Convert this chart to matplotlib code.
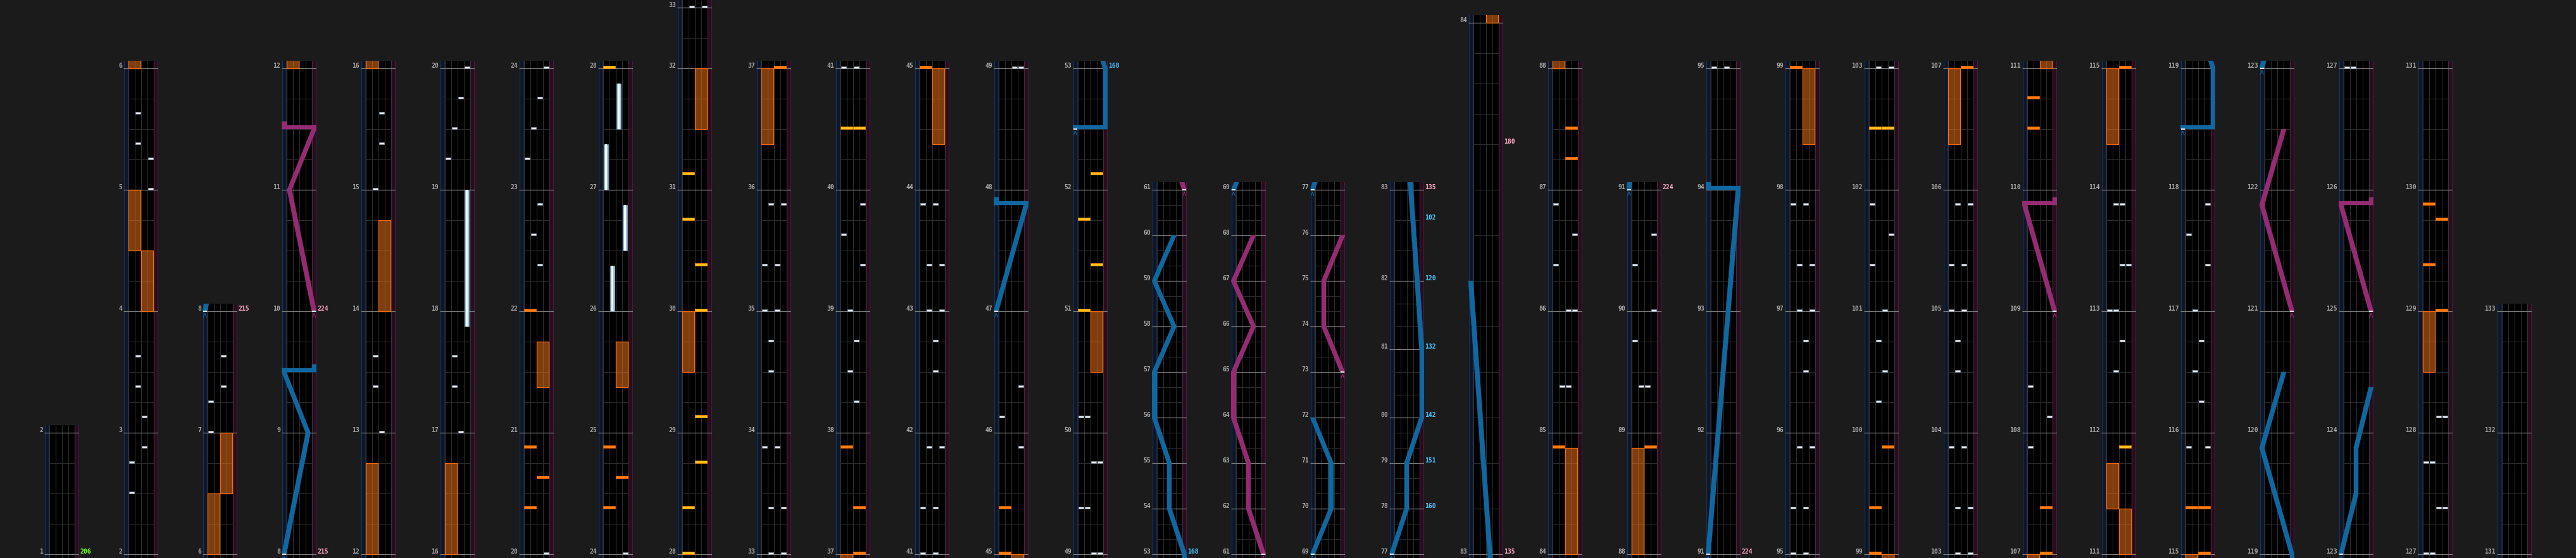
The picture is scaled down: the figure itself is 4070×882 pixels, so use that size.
import matplotlib
matplotlib.use("Agg")
import matplotlib.pyplot as plt
from matplotlib.patches import Rectangle, Polygon

# ---------------- chart data ----------------
# column ranges (first measure, last measure shown at the top)
columns = [(1, 2), (2, 6), (6, 8), (8, 12), (12, 16), (16, 20), (20, 24), (24, 28),
           (28, 33), (33, 37), (37, 41), (41, 45), (45, 49), (49, 53), (53, 61), (61, 69),
           (69, 77), (77, 83), (83, 84), (84, 88), (88, 91), (91, 95), (95, 99), (99, 103),
           (103, 107), (107, 111), (111, 115), (115, 119), (119, 123), (123, 127), (127, 131),
           (131, 133)]
last_measure = 133
default_beats = 4.0
odd_measures = {32: 2.0, 80: 2.25, 81: 2.25, 82: 3.0, 83: 17.5}
three_eight_first, three_eight_last = 53, 79          # 3/8 measures (1.5 beats)
grid_step_by_length = {1.5: 0.5, 2.25: 0.75}
measure83_grid = [1.5, 3.0, 4.5, 6.0, 7.5, 9.0, 10.5, 12.0, 13.5, 14.5, 15.5, 16.5]

# BT chips (measure, beat, lane 0-3)
bt_notes = [(2, 2, 0), (2, 3, 0), (2, 3.5, 2), (3, 0.5, 2), (3, 1.5, 1), (3, 2.5, 1),
            (5, 0, 3), (5, 1, 3), (5, 1.5, 1), (5, 2.5, 1),
            (7, 0, 0), (7, 1, 0), (7, 1.5, 2), (7, 2.5, 2),
            (13, 0, 2), (13, 1.5, 1), (13, 2.5, 1), (15, 0, 1), (15, 1.5, 2), (15, 2.5, 2),
            (17, 0, 2), (17, 1.5, 1), (17, 2.5, 1), (19, 1, 0), (19, 2, 1), (19, 3, 2), (20, 0, 3),
            (22, 1.5, 2), (22, 2.5, 1), (22, 3.5, 2), (23, 1, 0), (23, 2, 1), (23, 3, 2), (24, 0, 3),
            (33, 0, 1), (33, 0, 3), (33, 1.5, 1), (33, 1.5, 3), (33, 3.5, 0), (33, 3.5, 2),
            (34, 2, 1), (34, 3, 1), (35, 0, 0), (35, 0, 2), (35, 1.5, 0), (35, 1.5, 2),
            (35, 3.5, 1), (35, 3.5, 3),
            (38, 1, 2), (38, 2, 1), (38, 3, 2), (39, 0, 1), (39, 1.5, 3), (39, 2.5, 0), (39, 3.5, 3),
            (41, 0, 0), (41, 0, 2), (41, 1.5, 0), (41, 1.5, 2), (41, 3.5, 1), (41, 3.5, 3),
            (42, 2, 2), (42, 3, 2), (43, 0, 1), (43, 0, 3), (43, 1.5, 1), (43, 1.5, 3),
            (43, 3.5, 0), (43, 3.5, 2),
            (45, 3.5, 3), (46, 0.5, 0), (46, 1.5, 3), (49, 0, 2), (49, 0, 3),
            (49, 1.5, 0), (49, 1.5, 1), (49, 3, 2), (49, 3, 3), (50, 0.5, 0), (50, 0.5, 1),
            (85, 1.5, 1), (85, 1.5, 2), (86, 0, 2), (86, 0, 3), (86, 1.5, 0), (86, 2.5, 3), (86, 3.5, 0),
            (89, 1.5, 1), (89, 1.5, 2), (89, 3, 0), (90, 0, 3), (90, 1.5, 0), (90, 2.5, 3),
            (95, 0, 0), (95, 0, 2), (95, 1.5, 0), (95, 1.5, 2), (95, 3.5, 1), (95, 3.5, 3),
            (96, 2, 2), (96, 3, 2), (97, 0, 1), (97, 0, 3), (97, 1.5, 1), (97, 1.5, 3),
            (97, 3.5, 0), (97, 3.5, 2),
            (100, 1, 1), (100, 2, 2), (100, 3, 1), (101, 0, 2), (101, 1.5, 0), (101, 2.5, 3),
            (101, 3.5, 0), (103, 0, 1), (103, 0, 3),
            (103, 1.5, 1), (103, 1.5, 3), (103, 3.5, 0), (103, 3.5, 2), (104, 2, 1), (104, 3, 1),
            (105, 0, 0), (105, 0, 2), (105, 1.5, 0), (105, 1.5, 2), (105, 3.5, 1), (105, 3.5, 3),
            (107, 3.5, 0), (108, 0.5, 3), (108, 1.5, 0),
            (112, 2, 1), (112, 3, 2), (113, 0, 0), (113, 0, 1), (113, 1.5, 2), (113, 1.5, 3),
            (113, 3.5, 1), (113, 3.5, 2),
            (115, 3.5, 0), (115, 3.5, 3), (116, 1, 2), (116, 2, 1), (116, 3, 2), (117, 0, 1),
            (117, 1.5, 3), (117, 2.5, 0), (117, 3.5, 3),
            (127, 0, 0), (127, 0, 1), (127, 1.5, 2), (127, 1.5, 3), (127, 3, 0), (127, 3, 1),
            (128, 0.5, 2), (128, 0.5, 3)]

# BT holds (start measure, start beat, end measure, end beat, lane)
bt_holds = [(17, 3.5, 19, 0, 3), (26, 0, 26, 1.5, 1), (26, 2, 26, 3.5, 3),
            (27, 0, 27, 1.5, 0), (27, 2, 27, 3.5, 2)]

# FX chips (measure, beat, side 0=left 1=right)
fx_chips = [(20, 1.5, 0), (20, 2.5, 1), (20, 3.5, 0), (22, 0, 0),
            (24, 1.5, 0), (24, 2.5, 1), (24, 3.5, 0),
            (37, 0, 1), (37, 1.5, 1), (37, 3.5, 0), (45, 0, 0), (45, 1.5, 0),
            (84, 3.5, 0), (87, 1, 1), (87, 2, 1), (88, 3.5, 1),
            (99, 0, 0), (99, 1.5, 0), (99, 3.5, 1), (107, 0, 1), (107, 1.5, 1),
            (110, 2, 0), (110, 3, 0), (115, 0, 1), (115, 1.5, 0), (115, 1.5, 1),
            (129, 0, 1), (129, 1.5, 0), (129, 3, 1), (129, 3.5, 0)]
fx_chips_gold = [(28, 0, 0), (28, 1.5, 0), (28, 3, 1), (29, 0.5, 1), (30, 0, 1), (30, 1.5, 1),
                 (30, 3, 0), (31, 0.5, 0), (40, 2, 0), (40, 2, 1),
                 (51, 0, 0), (51, 1.5, 1), (51, 3, 0), (52, 0.5, 1),
                 (102, 2, 0), (102, 2, 1), (111, 3.5, 1)]

# FX holds (start measure, start beat, end measure, end beat, side)
fx_holds = [(4, 0, 4, 2, 1), (4, 2, 5, 0, 0), (6, 0, 6, 2, 0), (6, 2, 7, 0, 1),
            (12, 0, 12, 3, 0), (14, 0, 14, 3, 1), (16, 0, 16, 3, 0),
            (21, 1.5, 21, 3, 1), (25, 1.5, 25, 3, 1), (29, 2, 30, 0, 0), (31, 2, 32, 0, 1),
            (36, 1.5, 37, 0, 0), (44, 1.5, 45, 0, 1), (50, 2, 51, 0, 1),
            (84, 0, 84, 3.5, 1), (88, 0, 88, 3.5, 0), (98, 1.5, 99, 0, 1),
            (106, 1.5, 107, 0, 0), (111, 0, 111, 1.5, 1), (111, 1.5, 111, 3, 0),
            (114, 1.5, 115, 0, 0), (128, 2, 129, 0, 0)]

# lasers: lists of (measure, beat, position 0..1); equal times = slam
lasers_blue = [
    [(8, 0, 0.0), (9, 0, 0.8), (9, 2, 0.0), (9, 2, 1.0)],
    [(47, 0, 0.0), (47, 3.5, 1.0), (47, 3.5, 0.0)],
    [(52, 2, 0.0), (52, 2, 1.0), (53, 0, 1.0), (54, 0, 0.5), (55, 0, 0.5), (56, 0, 0.0),
     (57, 0, 0.0), (58, 0, 0.66), (59, 0, 0.0), (60, 0, 0.66)],
    [(69, 0, 0.0), (70, 0, 0.62), (71, 0, 0.62), (72, 0, 0.0)],
    [(77, 0, 0.0), (78, 0, 0.5), (79, 0, 0.5), (80, 0, 1.0), (81, 0, 1.0), (82, 0, 0.85),
     (83, 9, 0.0)],
    [(91, 0, 0.0), (94, 0, 1.0), (94, 0, 0.0)],
    [(118, 2, 0.0), (118, 2, 1.0), (119, 0, 1.0), (119, 3.5, 0.0), (120, 2, 0.73)],
    [(123, 0, 0.0), (123, 2, 0.5), (123, 3.5, 0.5), (124, 1.5, 1.0)],
]
lasers_pink = [
    [(10, 0, 1.0), (11, 0, 0.18), (11, 2, 1.0), (11, 2, 0.0)],
    [(61, 0, 1.0), (62, 0, 0.5), (63, 0, 0.5), (64, 0, 0.0), (65, 0, 0.0), (66, 0, 0.67),
     (67, 0, 0.0), (68, 0, 0.67)],
    [(73, 0, 1.0), (74, 0, 0.375), (75, 0, 0.375), (76, 0, 1.0)],
    [(109, 0, 1.0), (109, 3.5, 0.0), (109, 3.5, 1.0)],
    [(121, 0, 1.0), (121, 3.5, 0.0), (122, 2, 0.73)],
    [(125, 0, 1.0), (125, 3.5, 0.0), (125, 3.5, 1.0)],
]

# value labels at the right of the lanes (measure, beat, text, kind)
side_labels = [(1, 0, "206", "start"), (8, 0, "215", "bpm"), (10, 0, "224", "bpm"),
               (53, 0, "168", "cam"), (78, 0, "160", "cam"), (79, 0, "151", "cam"),
               (80, 0, "142", "cam"), (81, 0, "132", "cam"), (82, 0, "120", "cam"),
               (82, 2, "102", "cam"), (83, 0, "135", "bpm"), (83, 13.5, "180", "bpm"),
               (91, 0, "224", "bpm")]

# ---------------- styling ----------------
W, H, DPI = 4070, 882, 100
PX_BEAT = 48.0
COL_LEFT0, COL_STEP, COL_W = 70, 125, 55
BG = "#1b1b1b"
LASER_W = 0.75
label_colors = {"start": "#6cff1e", "bpm": "#ffa8c6", "cam": "#48c4ff"}
BLUE, PINK = "#11679f", "#952c73"
FONT = dict(family="DejaVu Sans Mono", weight="bold", size=7)

# measure lengths and start times
measure_len = {}
for m in range(1, last_measure + 1):
    measure_len[m] = default_beats
for m in range(three_eight_first, three_eight_last + 1):
    measure_len[m] = 1.5
measure_len.update(odd_measures)
start = {}
t = 0.0
for m in range(1, last_measure + 1):
    start[m] = t
    t += measure_len[m]
start[last_measure + 1] = t


def T(m, b):
    return start[m] + b


def grid_offsets(m):
    if m == 83:
        return measure83_grid
    L = measure_len[m]
    step = grid_step_by_length.get(L, 1.0)
    out, o = [], step
    while o < L - 1e-6:
        out.append(o)
        o += step
    return out


def lx(p):
    return LASER_W / 2 + (5.5 - LASER_W) * p


def draw_laser(ax, pts, color):
    xs = [lx(p) for (_, _, p) in pts]
    ts = [T(m, b) for (m, b, _) in pts]
    w = LASER_W
    for i in range(len(pts) - 1):
        if abs(ts[i + 1] - ts[i]) < 1e-9:
            x0, x1 = sorted([xs[i], xs[i + 1]])
            ax.add_patch(Rectangle((x0 - w / 2, ts[i]), x1 - x0 + w, 0.125,
                                   fc=color, ec=color, lw=0.3, zorder=6))
        else:
            poly = [(xs[i] - w / 2, ts[i]), (xs[i] + w / 2, ts[i]),
                    (xs[i + 1] + w / 2, ts[i + 1]), (xs[i + 1] - w / 2, ts[i + 1])]
            ax.add_patch(Polygon(poly, closed=True, fc=color, ec=color, lw=0.3, zorder=6))
    if len(pts) >= 2 and abs(ts[-1] - ts[-2]) < 1e-9:
        ax.add_patch(Rectangle((xs[-1] - w / 2, ts[-1]), w, 0.25,
                               fc=color, ec=color, lw=0.3, zorder=6))
    # start marker
    ax.add_patch(Rectangle((xs[0] - 0.3, ts[0] - 0.02), 0.6, 0.045, fc="#dfe6ee",
                           ec="none", zorder=7))
    ax.plot([xs[0] - 0.25, xs[0], xs[0] + 0.25], [ts[0] - 0.2, ts[0] - 0.07, ts[0] - 0.2],
            color=color, lw=0.8, zorder=7, solid_capstyle="butt")


fig = plt.figure(figsize=(W / DPI, H / DPI), dpi=DPI, facecolor=BG)

for k, (m0, m1) in enumerate(columns):
    T0, T1 = start[m0], start[m1]
    h_px = (T1 - T0 + 0.375) * PX_BEAT
    left_px = COL_LEFT0 + COL_STEP * k
    ax = fig.add_axes([left_px / W, 0, COL_W / W, h_px / H])
    ax.set_xlim(0, 5.5)
    ax.set_ylim(T0 - 0.125, T1 + 0.25)
    ax.set_facecolor("black")
    for s in ax.spines.values():
        s.set_visible(False)
    ax.set_xticks([])
    ax.set_yticks([])

    # laser lanes
    ax.axvspan(0, LASER_W, fc="#0e1526", ec="none", zorder=0.5)
    ax.axvspan(5.5 - LASER_W, 5.5, fc="#280c1e", ec="none", zorder=0.5)
    for x, c in [(0.06, "#1c3352"), (0.69, "#1a2a44"), (4.81, "#3e1432"), (5.44, "#4a1a3c")]:
        ax.axvline(x, color=c, lw=1.0, zorder=0.6)
    # BT lane separators
    for x in [1.75, 2.75, 3.75]:
        ax.axvline(x, color="#2c2c2c", lw=0.8, zorder=1)
    for x in [0.75, 4.75]:
        ax.axvline(x, color="#333333", lw=0.8, zorder=1)

    # grid and measure lines
    for m in range(m0, m1 + 1):
        if m <= last_measure:
            for o in grid_offsets(m):
                y = start[m] + o
                if T0 < y < T1 + 0.25:
                    ax.hlines(y, 0.75, 4.75, color="#2c2c2c", lw=0.8, zorder=1)
        ax.hlines(start[m], 0, 5.5, color="#7c7c7c", lw=0.9, zorder=2)
        ax.text(-0.2, start[m] + 0.02, str(m), ha="right", va="baseline",
                color="#a6a6a6", clip_on=False, **FONT)

    # FX holds
    for (ma, ba, mb, bb, side) in fx_holds:
        y0, y1 = T(ma, ba), T(mb, bb)
        x0 = 0.75 + 2 * side + 0.04
        ax.add_patch(Rectangle((x0, y0), 1.92, y1 - y0, fc="#ff7a1a", alpha=0.5,
                               ec="none", zorder=3))
        ax.add_patch(Rectangle((x0, y0), 1.92, y1 - y0, fill=False, ec="#ff6a00",
                               lw=0.9, zorder=3.1))
    # BT holds
    for (ma, ba, mb, bb, lane) in bt_holds:
        y0, y1 = T(ma, ba), T(mb, bb)
        xc = 0.75 + lane + 0.5
        ax.add_patch(Rectangle((xc - 0.32, y0), 0.64, y1 - y0, fc="#9cc6df", ec="#6f9ab5",
                               lw=0.5, zorder=3.5))
        ax.add_patch(Rectangle((xc - 0.14, y0), 0.28, y1 - y0, fc="#f2f9ff", ec="none",
                               zorder=3.6))
    # FX chips
    for (m, b, side) in fx_chips:
        ax.add_patch(Rectangle((0.75 + 2 * side + 0.02, T(m, b)), 1.96, 0.075,
                               fc="#ff7f0e", ec="#ff6a00", lw=0.5, zorder=4))
    for (m, b, side) in fx_chips_gold:
        ax.add_patch(Rectangle((0.75 + 2 * side + 0.02, T(m, b)), 1.96, 0.075,
                               fc="#ffc21c", ec="#ff8a00", lw=0.5, zorder=4))
    # BT chips
    for (m, b, lane) in bt_notes:
        ax.add_patch(Rectangle((0.75 + lane + 0.1, T(m, b)), 0.8, 0.07,
                               fc="#e9eff6", ec="#8c96a2", lw=0.5, zorder=4.5))
    # lasers
    for pts in lasers_blue:
        draw_laser(ax, pts, BLUE)
    for pts in lasers_pink:
        draw_laser(ax, pts, PINK)

    # side value labels
    for (m, b, txt, kind) in side_labels:
        y = T(m, b)
        if T0 - 1e-6 <= y <= T1 + 1e-6:
            ax.text(5.65, y + 0.02, txt, ha="left", va="baseline",
                    color=label_colors[kind], clip_on=False, **FONT)

fig.savefig("out.png", dpi=DPI, facecolor=BG)
